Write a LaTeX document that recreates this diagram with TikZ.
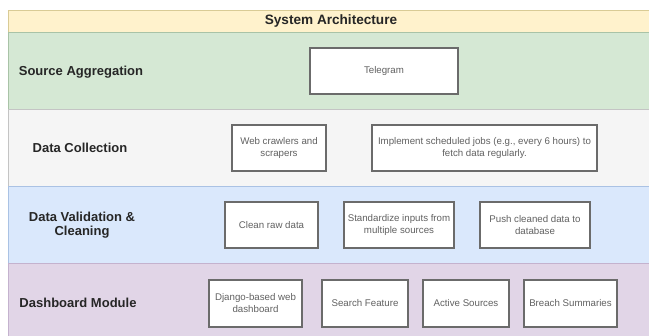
\documentclass[tikz,border=0pt]{standalone}
\usepackage{fontspec}
\setmainfont{Liberation Sans}
\begin{document}
\begin{tikzpicture}[x=1pt,y=-1pt,
  band/.style={line width=0.8pt},
  lanelabel/.style={font=\fontsize{13}{14.5}\selectfont\bfseries, text=black!85, align=center},
  itembox/.style={draw=black!58, fill=white, line width=1.1pt, rectangle,
    minimum height=46pt, inner sep=2pt, align=center,
    font=\fontsize{9.7}{12}\selectfont, text=black!62}]
\definecolor{titlefill}{HTML}{FFF2CC}
\definecolor{titleline}{HTML}{D9CB95}
\definecolor{srcfill}{HTML}{D5E8D4}
\definecolor{srcline}{HTML}{A9C3A7}
\definecolor{colfill}{HTML}{F5F5F5}
\definecolor{colline}{HTML}{C4C4C4}
\definecolor{valfill}{HTML}{DAE8FC}
\definecolor{valline}{HTML}{AAC2E4}
\definecolor{dashfill}{HTML}{E1D5E7}
\definecolor{dashline}{HTML}{C4B2CE}
\useasboundingbox (0,0) rectangle (649,336);
\fill[white] (0,0) rectangle (649,336);

% horizontal swimlanes
\filldraw[band, fill=titlefill, draw=titleline] (8,10) rectangle (655,32);
\filldraw[band, fill=srcfill, draw=srcline] (8,32) rectangle (655,109);
\filldraw[band, fill=colfill, draw=colline] (8,109) rectangle (655,186);
\filldraw[band, fill=valfill, draw=valline] (8,186) rectangle (655,263);
\filldraw[band, fill=dashfill, draw=dashline] (8,263) rectangle (655,340);

% title
\node[font=\fontsize{13.6}{15}\selectfont\bfseries, text=black!85] (title) at (331,21) {System Architecture};

% lane labels
\node[lanelabel] (srcLabel) at (81,72) {Source Aggregation};
\node[lanelabel] (colLabel) at (80,148) {Data Collection};
\node[lanelabel] (valLabel) at (82,225) {Data Validation \&\\Cleaning};
\node[lanelabel] (dashLabel) at (78,303) {Dashboard Module};

% source aggregation
\node[itembox, minimum width=148pt] (telegram) at (384,71) {Telegram};

% data collection
\node[itembox, minimum width=94pt] (crawlers) at (279,148) {Web crawlers and\\scrapers};
\node[itembox, minimum width=225pt] (jobs) at (484.5,148) {Implement scheduled jobs (e.g., every 6 hours) to\\fetch data regularly.};

% validation and cleaning
\node[itembox, minimum width=93pt] (clean) at (271.5,225) {Clean raw data};
\node[itembox, minimum width=110pt] (standardize) at (399,225) {Standardize inputs from\\multiple sources};
\node[itembox, minimum width=110pt] (push) at (535,225) {Push cleaned data to\\database};

% dashboard module
\node[itembox, minimum width=93pt, minimum height=47pt] (django) at (255.5,303.5) {Django-based web\\dashboard};
\node[itembox, minimum width=86pt, minimum height=47pt] (search) at (365,303.5) {Search Feature};
\node[itembox, minimum width=86pt, minimum height=47pt] (active) at (466,303.5) {Active Sources};
\node[itembox, minimum width=93pt, minimum height=47pt] (breach) at (570.5,303.5) {Breach Summaries};
\end{tikzpicture}
\end{document}
